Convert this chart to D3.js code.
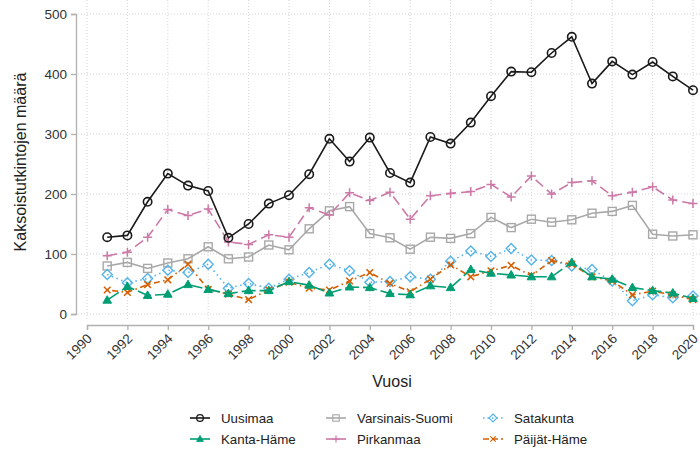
<!DOCTYPE html>
<html><head><meta charset="utf-8">
<script src="https://cdn.jsdelivr.net/npm/d3@7"></script>
<style>body{margin:0;background:#fff;}svg{display:block;font-family:"Liberation Sans",Arial,sans-serif;}</style>
</head><body><svg id="c" width="700" height="453"></svg>
<script>
const years = d3.range(1991, 2021);
const uusimaa = [128,131,187,234,214,205,127,150,184,198,233,292,254,294,235,219,295,284,319,363,404,403,435,462,384,421,399,420,396,373];
const varsinaisSuomi = [80,86,76,85,92,112,92,95,115,107,142,172,179,134,127,108,128,126,134,161,144,158,153,157,168,171,181,133,130,132];
const satakunta = [66,52,59,73,69,83,43,51,43,58,69,83,72,53,54,62,58,88,105,96,109,90,89,80,74,55,22,32,27,30];
const kantaHame = [23,46,31,33,49,41,34,39,39,54,48,35,45,44,34,32,47,44,74,68,65,62,62,86,62,58,44,39,35,26];
const pirkanmaa = [97,103,128,174,164,175,120,116,132,128,177,165,202,189,203,158,197,201,204,216,195,230,200,219,222,197,203,212,190,184];
const paijatHame = [40,36,49,57,83,41,33,24,40,53,43,40,55,69,51,37,58,82,62,72,81,64,89,83,62,55,32,38,32,24];
const seriesNames = ["Uusimaa","Kanta-Häme","Varsinais-Suomi","Pirkanmaa","Satakunta","Päijät-Häme"];
const xTicks = d3.range(1990, 2021, 2);
const yTicks = [0,100,200,300,400,500];
const xTitle = "Vuosi", yTitle = "Kaksoistutkintojen määrä";

const series = [
  {name:"Uusimaa", values:uusimaa, color:"#1a1a1a", dash:null, shape:"circle"},
  {name:"Kanta-Häme", values:kantaHame, color:"#009E73", dash:"14,4", shape:"triangle"},
  {name:"Varsinais-Suomi", values:varsinaisSuomi, color:"#a8a8a8", dash:null, shape:"square"},
  {name:"Pirkanmaa", values:pirkanmaa, color:"#CC79A7", dash:"10,5", shape:"plus"},
  {name:"Satakunta", values:satakunta, color:"#56B4E9", dash:"1.5,3.5", shape:"diamond"},
  {name:"Päijät-Häme", values:paijatHame, color:"#D55E00", dash:"1.5,3.5,6,3.5", shape:"cross"}
];

const svg = d3.select("#c");
const x = d3.scaleLinear().domain([1990,2020]).range([87,693]);
const y = d3.scaleLinear().domain([0,500]).range([314,14]);

// grid
const g = svg.append("g");
g.selectAll(".vg").data(xTicks).join("line")
  .attr("x1",d=>x(d)).attr("x2",d=>x(d)).attr("y1",0).attr("y2",320)
  .attr("stroke","#d6d6d6").attr("stroke-width",1).attr("stroke-dasharray","1,2");
g.selectAll(".hg").data(yTicks).join("line")
  .attr("x1",78).attr("x2",700).attr("y1",d=>y(d)).attr("y2",d=>y(d))
  .attr("stroke","#d6d6d6").attr("stroke-width",1).attr("stroke-dasharray","1,2");

// axes
const yAxis = svg.append("g").attr("transform","translate(76,0)")
  .call(d3.axisLeft(y).tickValues(yTicks).tickSize(5).tickPadding(4));
const xAxis = svg.append("g").attr("transform","translate(0,325)")
  .call(d3.axisBottom(x).tickValues(xTicks).tickFormat(d3.format("d")).tickSize(5));
[yAxis,xAxis].forEach(a=>{
  a.select(".domain").attr("stroke","#b0b0b0").attr("stroke-width",1.3);
  a.selectAll(".tick line").attr("stroke","#b0b0b0").attr("stroke-width",1.3);
  a.selectAll("text").attr("fill","#333").style("font-size","13.5px").style("font-family","Liberation Sans, Arial, sans-serif");
});
xAxis.selectAll("text").attr("text-anchor","end").attr("dy","0.35em")
  .attr("transform","translate(2,11) rotate(-45)").attr("y",0).attr("x",0);

svg.append("text").attr("x",392).attr("y",387).attr("text-anchor","middle")
  .style("font-size","16px").attr("fill","#222").text(xTitle);
svg.append("text").attr("transform","translate(26,162) rotate(-90)").attr("text-anchor","middle")
  .style("font-size","16px").attr("fill","#222").text(yTitle);

function marker(sel, shape, color){
  if(shape==="circle") sel.append("circle").attr("r",4.2).attr("fill","none").attr("stroke",color).attr("stroke-width",1.6);
  else if(shape==="square") sel.append("rect").attr("x",-4).attr("y",-4).attr("width",8).attr("height",8).attr("fill","none").attr("stroke",color).attr("stroke-width",1.4);
  else if(shape==="diamond") sel.append("path").attr("d","M0,-5L5,0L0,5L-5,0Z").attr("fill","none").attr("stroke",color).attr("stroke-width",1.4);
  else if(shape==="triangle") sel.append("path").attr("d","M0,-4.5L4.3,3L-4.3,3Z").attr("fill",color).attr("stroke",color).attr("stroke-width",1);
  else if(shape==="plus") sel.append("path").attr("d","M-4.5,0H4.5M0,-4.5V4.5").attr("stroke",color).attr("stroke-width",1.5);
  else if(shape==="cross") sel.append("path").attr("d","M-3.3,-3.3L3.3,3.3M-3.3,3.3L3.3,-3.3").attr("stroke",color).attr("stroke-width",1.5);
}

const line = d3.line().x(d=>x(d[0])).y(d=>y(d[1]));
const drawOrder = ["Varsinais-Suomi","Pirkanmaa","Satakunta","Päijät-Häme","Kanta-Häme","Uusimaa"];
drawOrder.forEach(n=>{
  const s = series.find(d=>d.name===n);
  const pts = years.map((yr,i)=>[yr,s.values[i]]);
  const gs = svg.append("g");
  gs.append("path").attr("d",line(pts)).attr("fill","none").attr("stroke",s.color)
    .attr("stroke-width",1.6).attr("stroke-dasharray",s.dash);
  gs.selectAll("g.m").data(pts).join("g").attr("transform",d=>`translate(${x(d[0])},${y(d[1])})`)
    .each(function(){ marker(d3.select(this), s.shape, s.color); });
});

// legend
const cols = [190, 326, 483];
const rows = [418, 439];
const textOff = 31;
series.forEach((s,i)=>{
  const cx = cols[Math.floor(i/2)], cy = rows[i%2];
  const lg = svg.append("g").attr("transform",`translate(${cx},${cy})`);
  lg.append("line").attr("x1",0).attr("x2",20).attr("y1",0).attr("y2",0).attr("stroke",s.color)
    .attr("stroke-width",1.6).attr("stroke-dasharray", s.dash ? (s.shape==="diamond"?"1.5,3":(s.shape==="cross"?"6,3":null)) : null);
  const mg = lg.append("g").attr("transform","translate(10,0) scale(0.8)");
  marker(mg, s.shape, s.color);
  lg.append("text").attr("x",textOff).attr("y",0).attr("dy","0.35em").style("font-size","13.3px").attr("fill","#222").text(s.name);
});
</script></body></html>
